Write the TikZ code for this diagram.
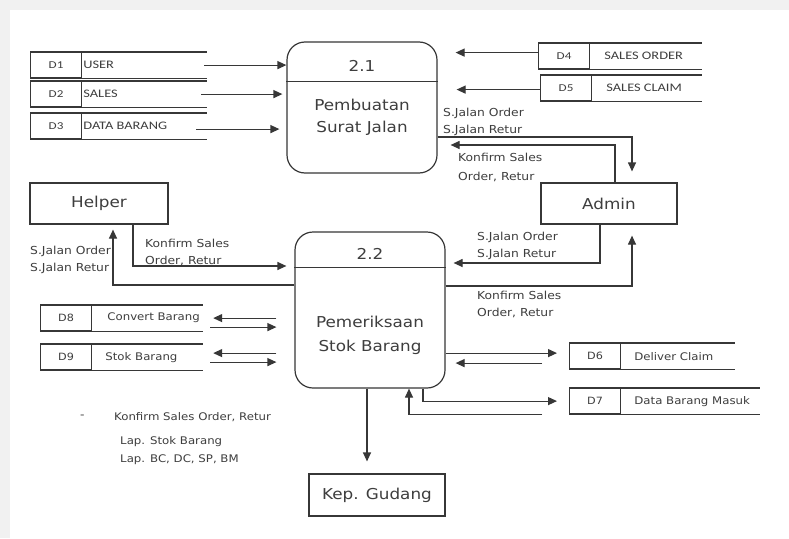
\documentclass[tikz,border=0pt]{standalone}
\usepackage{fontspec}
\setmainfont{DejaVu Sans}[FakeStretch=1.12]
\newfontfamily\storefont{Carlito}[FakeStretch=1.25]
\usetikzlibrary{arrows.meta,positioning}
\definecolor{dfdline}{RGB}{55,55,55}
\definecolor{dfdtext}{RGB}{62,62,62}
\definecolor{dfdframe}{RGB}{241,241,241}

\begin{document}
\begin{tikzpicture}[x=1pt,y=-1pt,
  every node/.style={text=dfdtext},
  proc/.style={draw=dfdline,line width=1.2pt,rounded corners=18pt,minimum width=150pt,inner sep=0pt},
  entity/.style={draw=dfdline,line width=1.2pt,inner sep=0pt,minimum height=41pt,font=\fontsize{15}{18}\selectfont},
  storeid/.style={draw=dfdline,line width=1.2pt,minimum width=51pt,minimum height=25pt,inner sep=0pt},
  lbl/.style={align=left,inner sep=0pt,font=\fontsize{11}{17}\selectfont},
  flow/.style={draw=dfdline,line width=1.2pt,-{Triangle[length=9pt,width=8pt]}}]
  % Frame
  \fill[dfdframe] (0,0) rectangle (789,538);
  \fill[white] (10,10) rectangle (789,538);
  % Processes
  \node[proc,minimum height=131pt] (p21) at (362,107.5) {};
  \draw[dfdline,line width=1.2pt] ([yshift=-40pt]p21.north west) -- ([yshift=-40pt]p21.north east);
  \node[font=\fontsize{15}{18}\selectfont] (p21-id) at (362,66) {2.1};
  \node[align=center,font=\fontsize{15}{22}\selectfont] (p21-name) at (362,117) {Pembuatan\\Surat Jalan};
  \node[proc,minimum height=156pt] (p22) at (370,310) {};
  \draw[dfdline,line width=1.2pt] ([yshift=-36pt]p22.north west) -- ([yshift=-36pt]p22.north east);
  \node[font=\fontsize{15}{18}\selectfont] (p22-id) at (370,254) {2.2};
  \node[align=center,font=\fontsize{15}{24}\selectfont] (p22-name) at (370,335) {Pemeriksaan\\Stok Barang};
  % External entities
  \node[entity,minimum width=138pt] (helper) at (99,203.5) {Helper};
  \node[entity,minimum width=136pt] (admin) at (609,203.5) {Admin};
  \node[entity,minimum width=136pt,minimum height=42pt] (gudang) at (377,495) {Kep. Gudang};
  % Data stores
  \foreach \n/\id/\x/\y/\len/\off/\lab in {d1/D1/30/52/177/1/USER, d2/D2/30/81/177/1/SALES,
      d3/D3/30/113/177/1/DATA BARANG, d4/D4/538/43/164/14/SALES ORDER, d5/D5/540/75/162/14/SALES CLAIM} {
    \node[storeid,anchor=north west,font=\storefont\fontsize{10.5}{12}\selectfont] (\n) at (\x,\y) {\id};
    \node[anchor=west,inner sep=0pt,font=\storefont\fontsize{11.5}{13}\selectfont] (\n-lab) at ([xshift=\off pt]\n.east) {\lab};
    \draw[dfdline,line width=1.2pt] (\n.north west) -- ++(\len,0) (\n.south west) -- ++(\len,0);
  }
  \foreach \n/\id/\x/\y/\len/\off/\lab in {d8/D8/40/305/163/15/Convert Barang, d9/D9/40/344/163/13/Stok Barang,
      d6/D6/569/343/166/13/Deliver Claim, d7/D7/569/388/191/13/Data Barang Masuk} {
    \node[storeid,anchor=north west,font=\fontsize{10}{12}\selectfont] (\n) at (\x,\y) {\id};
    \node[anchor=west,inner sep=0pt,font=\fontsize{10.5}{13}\selectfont] (\n-lab) at ([xshift=\off pt]\n.east) {\lab};
    \draw[dfdline,line width=1.2pt] (\n.north west) -- ++(\len,0) (\n.south west) -- ++(\len,0);
  }
  % Flows around 2.1
  \draw[flow] ([xshift=122pt]d1.east) -- (d1.east -| p21.west);
  \draw[flow, shorten >=4pt] ([xshift=119pt]d2.east) -- (d2.east -| p21.west);
  \draw[flow, shorten >=7pt] ([xshift=114pt,yshift=-3pt]d3.east) -- ([yshift=-3pt]d3.east -| p21.west);
  \draw[flow, shorten >=18pt] ([yshift=3.5pt]d4.west) -- ([yshift=3.5pt]d4.west -| p21.east);
  \draw[flow, shorten >=19pt] ([yshift=-1.5pt]d5.west) -- ([yshift=-1.5pt]d5.west -| p21.east);
  \draw[flow, shorten >=11pt] ([yshift=-29.5pt]p21.east) -| ([xshift=23pt]admin.north);
  \draw[flow, shorten >=13pt] ([xshift=6pt]admin.north) |- ([yshift=-37.5pt]p21.east);
  \node[lbl,anchor=west] (l-sj1) at (443,121.5) {S.Jalan Order\\S.Jalan Retur};
  \node[lbl,anchor=west,font=\fontsize{11}{19}\selectfont] (l-ks1) at (458,167.5) {Konfirm Sales\\Order, Retur};
  % Flows around 2.2
  \draw[flow, shorten >=8pt] ([xshift=-9pt]admin.south) |- ([yshift=47pt]p22.east);
  \draw[flow, shorten >=11pt] ([yshift=24pt]p22.east) -| ([xshift=23pt]admin.south);
  \node[lbl,anchor=west] (l-sj2) at (477,245.5) {S.Jalan Order\\S.Jalan Retur};
  \node[lbl,anchor=west] (l-ks2) at (477,304) {Konfirm Sales\\Order, Retur};
  \draw[flow, shorten >=5pt] ([yshift=25pt]p22.west) -| ([xshift=14pt]helper.south);
  \draw[flow, shorten >=8pt] ([xshift=34pt]helper.south) |- ([yshift=44pt]p22.west);
  \node[lbl,anchor=west] (l-sj3) at (30,260) {S.Jalan Order\\S.Jalan Retur};
  \node[lbl,anchor=west] (l-ks3) at (145,252.5) {Konfirm Sales\\Order, Retur};
  \draw[flow, shorten <=18pt] (d8.east -| p22.west) -- ([xshift=121pt]d8.east);
  \draw[flow, shorten >=18pt] ([xshift=118pt,yshift=-9pt]d8.east) -- ([yshift=-9pt]d8.east -| p22.west);
  \draw[flow, shorten <=18pt] ([yshift=4pt]d9.east -| p22.west) -- ([xshift=121pt,yshift=4pt]d9.east);
  \draw[flow, shorten >=18pt] ([xshift=118pt,yshift=-5pt]d9.east) -- ([yshift=-5pt]d9.east -| p22.west);
  \draw[flow, shorten >=12pt] ([yshift=3pt]d6.west -| p22.east) -- ([yshift=3pt]d6.west);
  \draw[flow, shorten >=10pt] ([xshift=-27pt,yshift=-7pt]d6.west) -- ([yshift=-7pt]d6.west -| p22.east);
  \draw[flow, shorten >=12pt] ([xshift=53pt]p22.south) |- (d7.west);
  \draw[flow] ([xshift=-27pt]d7.south west) -| ([xshift=39pt]p22.south);
  \draw[flow, shorten >=12pt] ([xshift=-3pt]p22.south) -- ([xshift=-3pt]p22.south |- gudang.north);
  % Notes
  \node[lbl,anchor=west] (n-dash) at (80,417) {-};
  \node[lbl,anchor=west,font=\fontsize{10.5}{13}\selectfont] (n-konf) at (114,417) {Konfirm Sales Order, Retur};
  \node[lbl,anchor=west,font=\fontsize{10.5}{18}\selectfont] (n-lap) at (120,451) {Lap. Stok Barang\\Lap. BC, DC, SP, BM};
\end{tikzpicture}
\end{document}
